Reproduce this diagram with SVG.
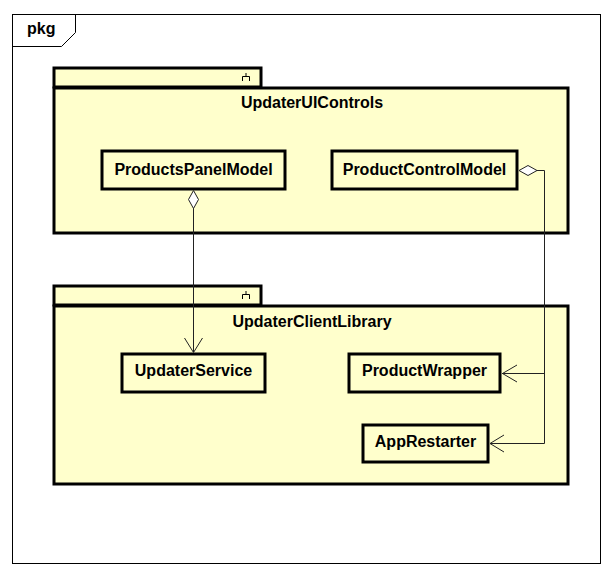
<svg xmlns="http://www.w3.org/2000/svg" width="614" height="576" viewBox="0 0 614 576">
<style>
.pk{fill:#FFFFCC;stroke:#000;stroke-width:3}
.cl{fill:#FFFFCC;stroke:#000;stroke-width:3}
.t{font-family:"Liberation Sans",Arial,sans-serif;font-weight:bold;font-size:16px;fill:#000}
.c{text-anchor:middle}
.ln{fill:none;stroke:#222;stroke-width:1}
</style>
<rect width="614" height="576" fill="#fff"/>
<g id="frame">
<rect x="12.5" y="14.5" width="588" height="549" fill="none" stroke="#000" stroke-width="1"/>
<path d="M75.5,14.5 V32.5 L61.5,46.5 H12.5" fill="none" stroke="#000" stroke-width="1"/>
<text class="t" x="27" y="34">pkg</text>
</g>
<g id="UpdaterUIControls">
<rect class="pk" x="54" y="68" width="207" height="19"/>
<rect class="pk" x="54" y="88" width="514" height="145"/>
<path d="M242.5,81 V76.5 H249.5 V81 M246,76.5 V73" fill="none" stroke="#000" stroke-width="1"/>
<text class="t c" x="312" y="108">UpdaterUIControls</text>
</g>
<g id="UpdaterClientLibrary">
<rect class="pk" x="54" y="286" width="207" height="19"/>
<rect class="pk" x="54" y="306" width="514" height="178"/>
<path d="M242.5,299 V294.5 H249.5 V299 M246,294.5 V291" fill="none" stroke="#000" stroke-width="1"/>
<text class="t c" x="312" y="327">UpdaterClientLibrary</text>
</g>
<g id="ProductsPanelModel">
<rect class="cl" x="102" y="151" width="183" height="38"/>
<text class="t c" x="193.5" y="175">ProductsPanelModel</text>
</g>
<g id="ProductControlModel">
<rect class="cl" x="332" y="151" width="185" height="38"/>
<text class="t c" x="424.5" y="175">ProductControlModel</text>
</g>
<g id="UpdaterService">
<rect class="cl" x="122" y="354" width="143" height="38"/>
<text class="t c" x="193.5" y="376">UpdaterService</text>
</g>
<g id="ProductWrapper">
<rect class="cl" x="349" y="354" width="151" height="38"/>
<text class="t c" x="424.5" y="376">ProductWrapper</text>
</g>
<g id="AppRestarter">
<rect class="cl" x="363" y="425" width="125" height="37"/>
<text class="t c" x="425.5" y="447">AppRestarter</text>
</g>
<g id="connectors">
<path class="ln" d="M193.5,208 V352"/>
<path d="M193.5,190.5 L188.5,199.5 L193.5,208.5 L198.5,199.5 Z" fill="#fff" stroke="#222" stroke-width="1"/>
<path class="ln" d="M184.5,338 L193.5,352.5 L202.5,338"/>
<path class="ln" d="M537,170.5 H544.5 V443.5 H490 M544.5,373.5 H502"/>
<path d="M519,170.5 L528,165.5 L537,170.5 L528,175.5 Z" fill="#fff" stroke="#222" stroke-width="1"/>
<path class="ln" d="M517,365 L502.5,373.5 L517,382"/>
<path class="ln" d="M504,435 L490,443.5 L504,452"/>
</g>
</svg>
